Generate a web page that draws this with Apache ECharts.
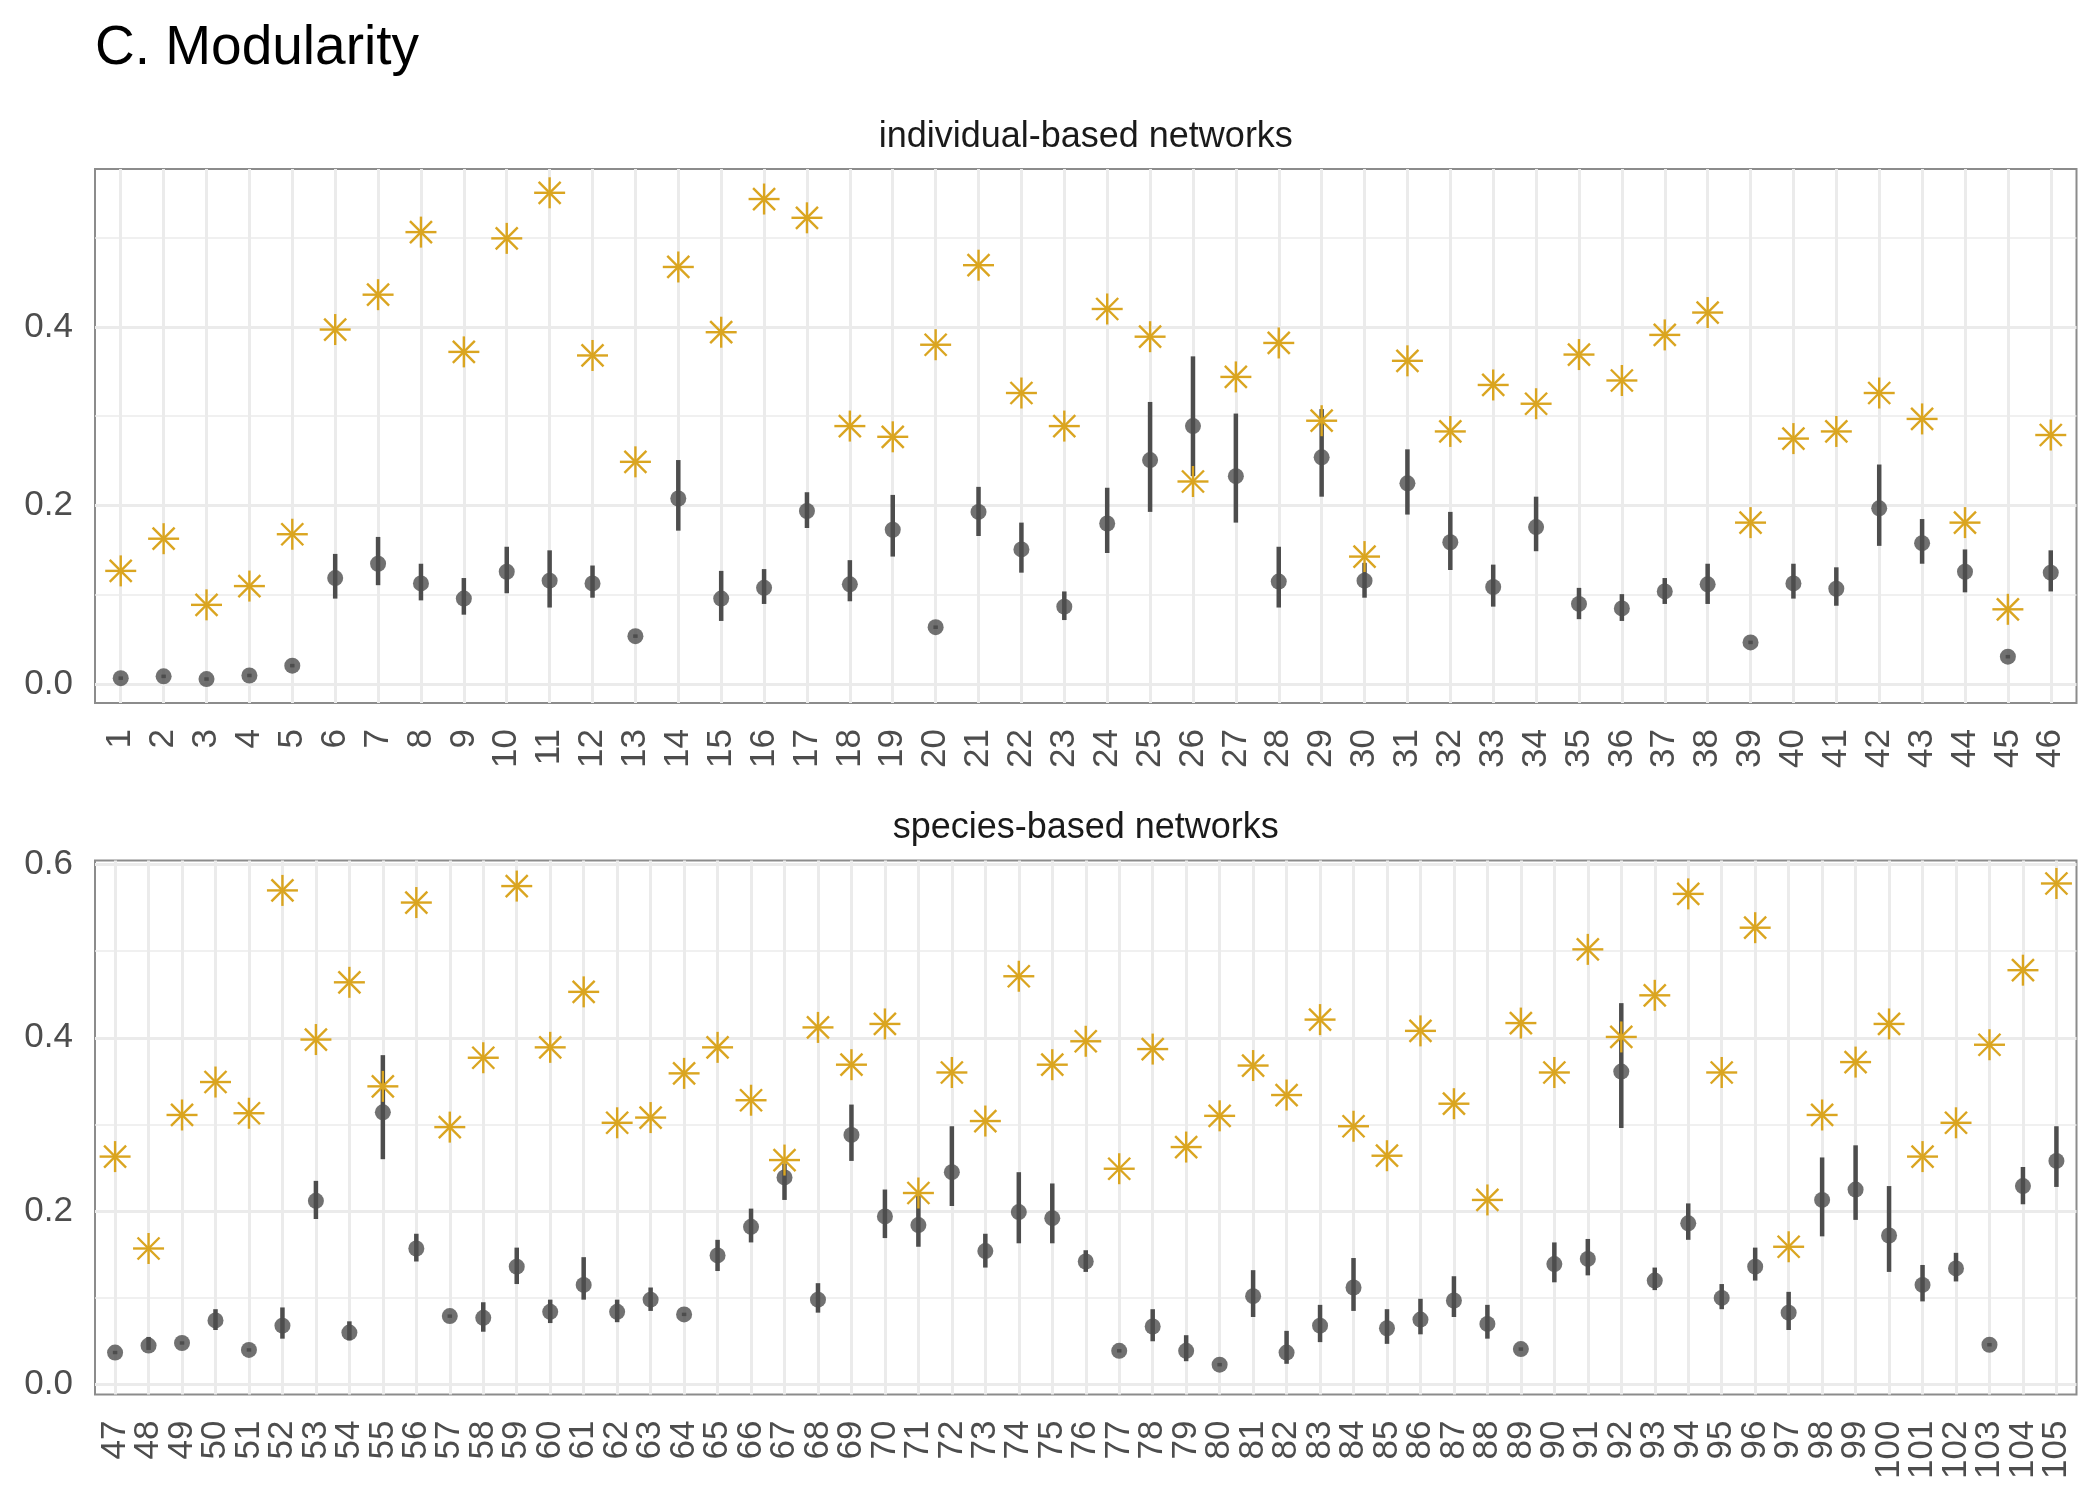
<!DOCTYPE html>
<html>
<head>
<meta charset="utf-8">
<script src="https://cdn.jsdelivr.net/npm/echarts@6/dist/echarts.min.js"></script>
<style>
html,body{margin:0;padding:0;background:#fff;}
#chart{width:2100px;height:1500px;}
</style>
</head>
<body>
<div id="chart"></div>
<script>
// ---------- DATA ----------
const indIds = [1,2,3,4,5,6,7,8,9,10,11,12,13,14,15,16,17,18,19,20,21,22,23,24,25,26,27,28,29,30,31,32,33,34,35,36,37,38,39,40,41,42,43,44,45,46];
const indObserved = [0.127,0.163,0.089,0.110,0.168,0.397,0.436,0.506,0.372,0.499,0.550,0.368,0.249,0.467,0.394,0.543,0.522,0.289,0.277,0.380,0.469,0.326,0.289,0.420,0.389,0.227,0.344,0.382,0.295,0.143,0.362,0.283,0.335,0.314,0.369,0.340,0.391,0.416,0.181,0.275,0.283,0.326,0.297,0.181,0.084,0.279];
const indMean = [0.007,0.009,0.006,0.010,0.021,0.119,0.135,0.113,0.096,0.126,0.116,0.113,0.054,0.208,0.096,0.108,0.194,0.112,0.173,0.064,0.193,0.151,0.087,0.180,0.251,0.289,0.233,0.115,0.254,0.116,0.225,0.159,0.109,0.176,0.090,0.085,0.104,0.112,0.047,0.113,0.107,0.197,0.158,0.126,0.031,0.125];
const indLow = [0.005,0.007,0.004,0.008,0.019,0.096,0.111,0.094,0.078,0.102,0.086,0.097,0.052,0.172,0.071,0.090,0.175,0.093,0.143,0.062,0.166,0.125,0.072,0.147,0.193,0.233,0.181,0.086,0.210,0.097,0.190,0.128,0.087,0.149,0.073,0.071,0.090,0.090,0.045,0.096,0.088,0.155,0.135,0.103,0.029,0.104];
const indHigh = [0.009,0.011,0.008,0.012,0.023,0.146,0.165,0.135,0.119,0.154,0.150,0.133,0.056,0.251,0.127,0.129,0.215,0.139,0.212,0.066,0.221,0.181,0.104,0.220,0.316,0.367,0.303,0.154,0.308,0.136,0.263,0.193,0.134,0.210,0.108,0.101,0.119,0.135,0.049,0.135,0.131,0.246,0.185,0.151,0.033,0.150];

const spIds = [47,48,49,50,51,52,53,54,55,56,57,58,59,60,61,62,63,64,65,66,67,68,69,70,71,72,73,74,75,76,77,78,79,80,81,82,83,84,85,86,87,88,89,90,91,92,93,94,95,96,97,98,99,100,101,102,103,104,105];
const spObserved = [0.263,0.157,0.311,0.349,0.313,0.570,0.398,0.464,0.344,0.556,0.297,0.377,0.575,0.389,0.453,0.302,0.308,0.359,0.389,0.328,0.259,0.412,0.369,0.416,0.221,0.360,0.304,0.471,0.369,0.396,0.249,0.387,0.274,0.310,0.368,0.334,0.421,0.298,0.264,0.408,0.324,0.213,0.417,0.360,0.502,0.401,0.449,0.566,0.360,0.527,0.159,0.311,0.372,0.416,0.263,0.302,0.392,0.478,0.578];
const spMean = [0.037,0.045,0.048,0.074,0.040,0.068,0.212,0.060,0.314,0.157,0.079,0.077,0.136,0.084,0.115,0.084,0.098,0.081,0.149,0.182,0.239,0.098,0.288,0.194,0.184,0.245,0.154,0.199,0.192,0.142,0.039,0.067,0.039,0.023,0.102,0.037,0.068,0.112,0.065,0.075,0.097,0.070,0.041,0.139,0.145,0.361,0.120,0.186,0.100,0.136,0.083,0.213,0.225,0.172,0.115,0.134,0.046,0.229,0.258];
const spLow = [0.035,0.040,0.046,0.063,0.038,0.053,0.191,0.051,0.260,0.142,0.077,0.061,0.116,0.071,0.098,0.072,0.085,0.079,0.131,0.164,0.213,0.083,0.258,0.169,0.159,0.206,0.135,0.163,0.163,0.130,0.037,0.050,0.027,0.021,0.078,0.024,0.049,0.085,0.047,0.058,0.078,0.053,0.039,0.118,0.126,0.296,0.109,0.167,0.087,0.120,0.063,0.171,0.190,0.130,0.096,0.119,0.044,0.208,0.228];
const spHigh = [0.039,0.055,0.050,0.087,0.042,0.089,0.235,0.073,0.380,0.174,0.081,0.095,0.158,0.098,0.147,0.098,0.112,0.083,0.167,0.203,0.255,0.117,0.323,0.225,0.218,0.298,0.174,0.245,0.232,0.155,0.041,0.087,0.057,0.025,0.132,0.062,0.092,0.146,0.087,0.099,0.125,0.092,0.043,0.164,0.168,0.440,0.135,0.209,0.116,0.158,0.107,0.262,0.276,0.229,0.138,0.152,0.048,0.251,0.298];

const indMajorTicks = [0, 0.2, 0.4];
const indMinorTicks = [0.1, 0.3, 0.5];
const spMajorTicks = [0, 0.2, 0.4, 0.6];
const spMinorTicks = [0.1, 0.3, 0.5];

const titleText = 'C. Modularity';
const panelTitles = ['individual-based networks', 'species-based networks'];

// ---------- STYLE ----------
const FONT = "'Liberation Sans', Arial, Helvetica, sans-serif";
const GRID_COL = '#EBEBEB';
const DARK = '#4D4D4D';
const GOLD = '#DAA520';

const panels = [
  {ids: indIds, obs: indObserved, mean: indMean, lo: indLow, hi: indHigh,
   major: indMajorTicks, minor: indMinorTicks, yMin: -0.0208, yMax: 0.5766,
   top: 169, height: 534},
  {ids: spIds, obs: spObserved, mean: spMean, lo: spLow, hi: spHigh,
   major: spMajorTicks, minor: spMinorTicks, yMin: -0.0114, yMax: 0.6045,
   top: 860.5, height: 534}
];

const chart = echarts.init(document.getElementById('chart'), null, {renderer: 'canvas'});

const grids = [], xAxes = [], yAxes = [], series = [];
panels.forEach((p, i) => {
  grids.push({left: 95, width: 1981.5, top: p.top, height: p.height,
    show: true, borderColor: '#8C8C8C', borderWidth: 2, backgroundColor: 'transparent'});
  const first = p.ids[0], last = p.ids[p.ids.length - 1];
  const xMin = first - 0.6, xMax = last + 0.6;
  const idSet = new Set(p.ids);
  // blank placeholder labels sit on the axis ends so that no real label is treated as min/max
  const labelVals = [xMin].concat(p.ids, [xMax]);
  xAxes.push({
    type: 'value', gridIndex: i, min: xMin, max: xMax,
    axisLine: {show: false},
    axisTick: {show: false, customValues: p.ids},
    axisLabel: {customValues: labelVals, rotate: 90, fontSize: 35, color: DARK,
      fontFamily: FONT, margin: 26, showMinLabel: false, showMaxLabel: false,
      hideOverlap: false, formatter: v => (idSet.has(v) ? String(v) : '')},
    splitLine: {show: true, showMinLine: true, showMaxLine: true,
      lineStyle: {color: GRID_COL, width: 3}}
  });
  yAxes.push({
    type: 'value', gridIndex: i, min: p.yMin, max: p.yMax,
    axisLine: {show: false},
    axisTick: {show: false, customValues: p.major},
    axisLabel: {customValues: p.major, fontSize: 35, color: DARK, fontFamily: FONT,
      margin: 22, showMinLabel: true, showMaxLabel: true, formatter: v => v.toFixed(1)},
    splitLine: {show: true, lineStyle: {color: GRID_COL, width: 3}}
  });
  yAxes.push({
    type: 'value', gridIndex: i, min: p.yMin, max: p.yMax,
    axisLine: {show: false},
    axisTick: {show: false, customValues: p.minor},
    axisLabel: {show: false, customValues: p.minor},
    splitLine: {show: true, lineStyle: {color: GRID_COL, width: 1.6}}
  });
  const yIdx = i * 2;
  // error bars
  series.push({
    type: 'custom', xAxisIndex: i, yAxisIndex: yIdx, z: 3,
    data: p.ids.map((id, k) => [id, p.lo[k], p.hi[k]]),
    encode: {x: 0, y: [1, 2]},
    renderItem: (params, api) => {
      const x = api.value(0);
      const a = api.coord([x, api.value(1)]);
      const b = api.coord([x, api.value(2)]);
      return {type: 'line', shape: {x1: a[0], y1: a[1], x2: b[0], y2: b[1]},
        style: {stroke: DARK, lineWidth: 4.5}};
    }
  });
  // mean points
  series.push({
    type: 'scatter', xAxisIndex: i, yAxisIndex: yIdx, z: 4,
    data: p.ids.map((id, k) => [id, p.mean[k]]),
    symbol: 'circle', symbolSize: 16,
    itemStyle: {color: DARK}
  });
  // observed asterisks
  series.push({
    type: 'custom', xAxisIndex: i, yAxisIndex: yIdx, z: 5,
    data: p.ids.map((id, k) => [id, p.obs[k]]),
    encode: {x: 0, y: 1},
    renderItem: (params, api) => {
      const c = api.coord([api.value(0), api.value(1)]);
      const r = 15.5, d = 11;
      const st = {stroke: GOLD, lineWidth: 2.4};
      const seg = (x1, y1, x2, y2) => ({type: 'line',
        shape: {x1: c[0] + x1, y1: c[1] + y1, x2: c[0] + x2, y2: c[1] + y2}, style: st});
      return {type: 'group', children: [
        seg(-r, 0, r, 0), seg(0, -r, 0, r), seg(-d, -d, d, d), seg(-d, d, d, -d)
      ]};
    }
  });
});

const option = {
  backgroundColor: '#ffffff',
  animation: false,
  title: [
    {text: titleText, left: 95, top: 21, padding: 0,
      textStyle: {fontSize: 55, fontWeight: 'normal', color: '#000', fontFamily: FONT}},
    {text: panelTitles[0], left: 1085.75, top: 119, textAlign: 'center', padding: 0,
      textStyle: {fontSize: 36, fontWeight: 'normal', color: '#1A1A1A', fontFamily: FONT}},
    {text: panelTitles[1], left: 1085.75, top: 810, textAlign: 'center', padding: 0,
      textStyle: {fontSize: 36, fontWeight: 'normal', color: '#1A1A1A', fontFamily: FONT}}
  ],
  grid: grids,
  xAxis: xAxes,
  yAxis: yAxes,
  series: series
};
chart.setOption(option);
</script>
</body>
</html>
